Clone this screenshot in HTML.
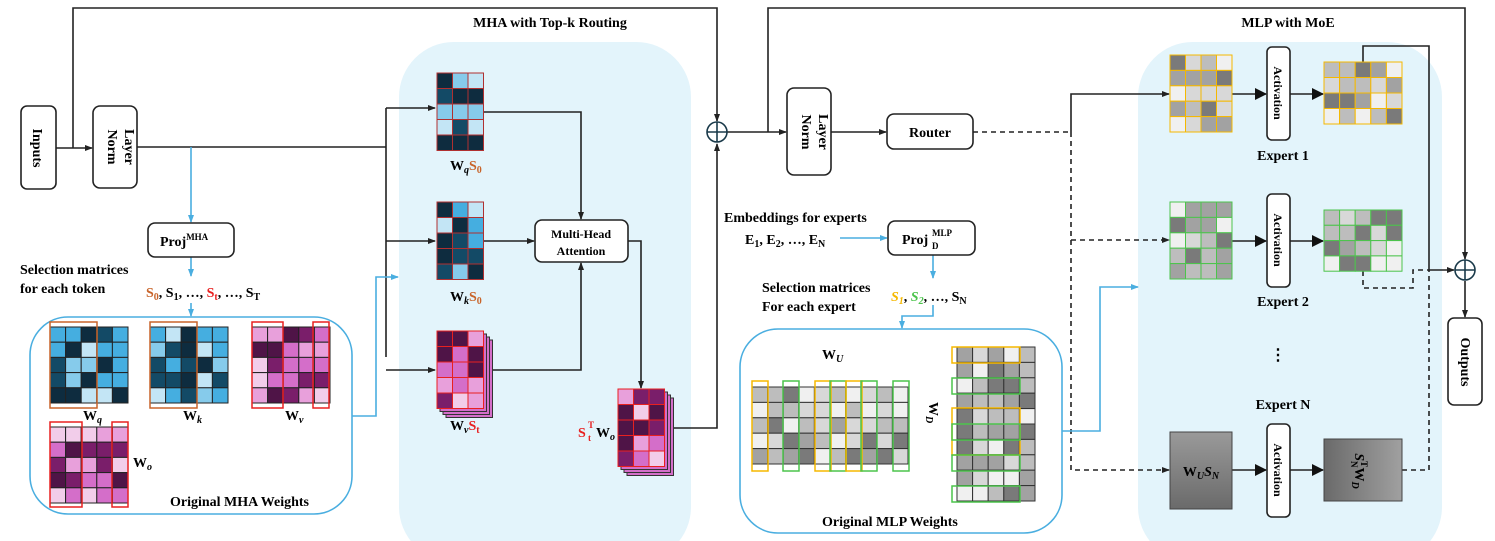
<!DOCTYPE html>
<html><head><meta charset="utf-8"><style>
html,body{margin:0;padding:0;background:#fff;}
svg{display:block;font-family:"Liberation Serif",serif;font-weight:bold;}
</style></head><body>
<svg id="s" width="1495" height="541" viewBox="0 0 1495 541" xmlns="http://www.w3.org/2000/svg">
<defs>
<marker id="a" markerWidth="8" markerHeight="8" refX="7" refY="4" orient="auto" markerUnits="userSpaceOnUse"><path d="M0,1 L8,4 L0,7 z" fill="#222"/></marker>
<marker id="b" markerWidth="8" markerHeight="8" refX="7" refY="4" orient="auto" markerUnits="userSpaceOnUse"><path d="M0,1 L8,4 L0,7 z" fill="#4aaee0"/></marker>
<marker id="c" markerWidth="12" markerHeight="12" refX="11" refY="6" orient="auto" markerUnits="userSpaceOnUse"><path d="M0,0 L12,6 L0,12 z" fill="#111"/></marker>
<linearGradient id="g1" x1="0" y1="0" x2="0" y2="1"><stop offset="0" stop-color="#9a9a9a"/><stop offset="1" stop-color="#6a6a6a"/></linearGradient>
<linearGradient id="g2" x1="0" y1="0" x2="1" y2="0"><stop offset="0" stop-color="#6a6a6a"/><stop offset="1" stop-color="#a0a0a0"/></linearGradient>
</defs>
<rect x="399" y="42" width="292" height="520" rx="55" fill="#e3f4fb"/>
<rect x="1138" y="42" width="304" height="520" rx="55" fill="#e3f4fb"/>
<text x="550" y="27" font-size="14" text-anchor="middle">MHA with Top-k Routing</text>
<text x="1288" y="27" font-size="14" text-anchor="middle">MLP with MoE</text>

<g stroke="#222" stroke-width="1.6" fill="none">
<polyline points="73,148 73,8 717,8 717,121" marker-end="url(#a)"/>
<line x1="56" y1="148" x2="92" y2="148" marker-end="url(#a)"/>
<line x1="137" y1="147" x2="386" y2="147"/>
<polyline points="386,357 386,108"/>
<line x1="386" y1="108" x2="435" y2="108" marker-end="url(#a)"/>
<line x1="386" y1="241" x2="435" y2="241" marker-end="url(#a)"/>
<line x1="386" y1="370" x2="435" y2="370" marker-end="url(#a)"/>
<polyline points="483,112 581,112 581,219" marker-end="url(#a)"/>
<line x1="483" y1="241" x2="534" y2="241" marker-end="url(#a)"/>
<polyline points="483,370 581,370 581,263" marker-end="url(#a)"/>
<polyline points="628,241 641,241 641,388" marker-end="url(#a)"/>
<polyline points="665,428 717,428 717,144" marker-end="url(#a)"/>
<line x1="727" y1="132" x2="786" y2="132" marker-end="url(#a)"/>
<polyline points="768,132 768,8 1465,8 1465,259" marker-end="url(#a)"/>
<line x1="831" y1="132" x2="886" y2="132" marker-end="url(#a)"/>
<polyline points="1071,132 1071,94 1169,94" marker-end="url(#a)"/>
<line x1="1232" y1="94" x2="1266" y2="94" marker-end="url(#c)"/>
<line x1="1290" y1="94" x2="1323" y2="94" marker-end="url(#c)"/>
<line x1="1232" y1="241" x2="1266" y2="241" marker-end="url(#c)"/>
<line x1="1290" y1="241" x2="1323" y2="241" marker-end="url(#c)"/>
<line x1="1232" y1="470" x2="1266" y2="470" marker-end="url(#c)"/>
<line x1="1290" y1="470" x2="1323" y2="470" marker-end="url(#c)"/>
<polyline points="1363,62 1363,46 1429,46 1429,270 1454,270" marker-end="url(#a)"/>
<line x1="1465" y1="281" x2="1465" y2="317" marker-end="url(#a)"/>
</g>
<g stroke="#222" stroke-width="1.6" fill="none" stroke-dasharray="5,4">
<line x1="973" y1="132" x2="1071" y2="132"/>
<polyline points="1071,132 1071,470 1169,470" marker-end="url(#a)"/>
<line x1="1071" y1="240" x2="1169" y2="240" marker-end="url(#a)"/>
<polyline points="1363,271 1363,288 1413,288 1413,270 1429,270"/>
<polyline points="1402,470 1429,470 1429,270"/>
</g>
<g stroke="#4aaee0" stroke-width="1.6" fill="none">
<line x1="191" y1="147" x2="191" y2="222" marker-end="url(#b)"/>
<line x1="191" y1="257" x2="191" y2="276" marker-end="url(#b)"/>
<line x1="191" y1="303" x2="191" y2="316" marker-end="url(#b)"/>
<polyline points="352,416 376,416 376,277 398,277" marker-end="url(#b)"/>
<line x1="840" y1="238" x2="887" y2="238" marker-end="url(#b)"/>
<line x1="933" y1="255" x2="933" y2="278" marker-end="url(#b)"/>
<polyline points="933,305 933,316 902,316 902,328" marker-end="url(#b)"/>
<polyline points="1062,431 1100,431 1100,287 1138,287" marker-end="url(#b)"/>
<rect x="30" y="317" width="322" height="197" rx="38"/>
<rect x="740" y="329" width="322" height="204" rx="38"/>
</g>
<g stroke="#1a3a4a" stroke-width="1.6" fill="#fff">
<circle cx="717" cy="132" r="10"/><line x1="707" y1="132" x2="727" y2="132"/><line x1="717" y1="122" x2="717" y2="142"/>
<circle cx="1465" cy="270" r="10"/><line x1="1455" y1="270" x2="1475" y2="270"/><line x1="1465" y1="260" x2="1465" y2="280"/>
</g>
<g stroke="#222" stroke-width="1.6" fill="#fff">
<rect x="21" y="106" width="35" height="83" rx="6"/>
<rect x="93" y="106" width="44" height="82" rx="7"/>
<rect x="148" y="223" width="86" height="34" rx="7"/>
<rect x="535" y="220" width="93" height="42" rx="7"/>
<rect x="787" y="88" width="44" height="87" rx="7"/>
<rect x="887" y="114" width="86" height="35" rx="7"/>
<rect x="888" y="221" width="87" height="34" rx="7"/>
<rect x="1267" y="47" width="23" height="93" rx="5"/>
<rect x="1267" y="194" width="23" height="93" rx="5"/>
<rect x="1267" y="424" width="23" height="93" rx="5"/>
<rect x="1448" y="318" width="34" height="87" rx="6"/>
</g>
<g id="m"></g>
<rect x="1170" y="432" width="62" height="77" fill="url(#g1)" stroke="#444"/>
<rect x="1324" y="439" width="78" height="62" fill="url(#g2)" stroke="#444"/>
<g font-size="14">
<text transform="translate(33,148) rotate(90)" text-anchor="middle">Inputs</text>
<text transform="translate(117,147) rotate(90)" text-anchor="middle"><tspan x="0" dy="-8">Layer</tspan><tspan x="0" dy="17">Norm</tspan></text>
<text transform="translate(811,132) rotate(90)" text-anchor="middle"><tspan x="0" dy="-8">Layer</tspan><tspan x="0" dy="17">Norm</tspan></text>
<text x="930" y="137" text-anchor="middle">Router</text>
<text transform="translate(1461,362) rotate(90)" text-anchor="middle">Outputs</text>
<text x="581" y="238" text-anchor="middle" font-size="12">Multi-Head</text>
<text x="581" y="255" text-anchor="middle" font-size="12">Attention</text>
<text x="160" y="246">Proj<tspan font-size="9" dy="-6">MHA</tspan></text>
<text x="902" y="244">Proj</text>
<text x="932" y="236" font-size="9">MLP</text>
<text x="932" y="249" font-size="9">D</text>
<text x="20" y="274">Selection matrices</text>
<text x="20" y="293">for each token</text>
<text x="146" y="297"><tspan fill="#c8642a">S<tspan font-size="10" dy="3">0</tspan></tspan><tspan dy="-3">, S</tspan><tspan font-size="10" dy="3">1</tspan><tspan dy="-3">, …, </tspan><tspan fill="#e82020">S<tspan font-size="10" dy="3">t</tspan></tspan><tspan dy="-3">, …, S</tspan><tspan font-size="10" dy="3">T</tspan></text>
<text x="724" y="222">Embeddings for experts</text>
<text x="745" y="244">E<tspan font-size="10" dy="3">1</tspan><tspan dy="-3">, E</tspan><tspan font-size="10" dy="3">2</tspan><tspan dy="-3">, …, E</tspan><tspan font-size="10" dy="3">N</tspan></text>
<text x="762" y="292">Selection matrices</text>
<text x="762" y="311">For each expert</text>
<text x="891" y="301"><tspan fill="#f5b800" font-style="italic">S<tspan font-size="10" dy="3">1</tspan></tspan><tspan dy="-3">, </tspan><tspan fill="#4cc44c" font-style="italic">S<tspan font-size="10" dy="3">2</tspan></tspan><tspan dy="-3">, …, S</tspan><tspan font-size="10" dy="3">N</tspan></text>
<text x="170" y="506">Original MHA Weights</text>
<text x="822" y="526">Original MLP Weights</text>
<text x="1283" y="160" text-anchor="middle">Expert 1</text>
<text x="1283" y="306" text-anchor="middle">Expert 2</text>
<text x="1283" y="409" text-anchor="middle">Expert N</text>
<text x="1278" y="360" text-anchor="middle" font-size="16">⋮</text>
<text x="450" y="170">W<tspan font-style="italic" font-size="10" dy="3">q</tspan><tspan fill="#c8642a" dy="-3">S<tspan font-size="10" dy="3">0</tspan></tspan></text>
<text x="450" y="301">W<tspan font-style="italic" font-size="10" dy="3">k</tspan><tspan fill="#c8642a" dy="-3">S<tspan font-size="10" dy="3">0</tspan></tspan></text>
<text x="450" y="430">W<tspan font-style="italic" font-size="10" dy="3">v</tspan><tspan fill="#e82020" dy="-3">S<tspan font-size="10" dy="3">t</tspan></tspan></text>
<text x="578" y="437"><tspan fill="#e82020">S</tspan></text>
<text x="588" y="428" font-size="9" fill="#e82020">T</text>
<text x="588" y="441" font-size="9" fill="#e82020">t</text>
<text x="596" y="437">W<tspan font-style="italic" font-size="10" dy="3">o</tspan></text>
<text x="83" y="420">W<tspan font-style="italic" font-size="10" dy="3">q</tspan></text>
<text x="183" y="420">W<tspan font-style="italic" font-size="10" dy="3">k</tspan></text>
<text x="285" y="420">W<tspan font-style="italic" font-size="10" dy="3">v</tspan></text>
<text x="133" y="467">W<tspan font-style="italic" font-size="10" dy="3">o</tspan></text>
<text x="822" y="359">W<tspan font-style="italic" font-size="10" dy="3">U</tspan></text>
<text transform="translate(929,402) rotate(90)">W<tspan font-style="italic" font-size="10" dy="3">D</tspan></text>
<text x="1201" y="476" text-anchor="middle">W<tspan font-style="italic" font-size="10" dy="3">U</tspan><tspan font-style="italic" dy="-3">S</tspan><tspan font-style="italic" font-size="10" dy="3">N</tspan></text>
<text transform="translate(1355,471) rotate(90)" text-anchor="middle"><tspan font-style="italic">S</tspan><tspan font-size="9" dy="-6">T</tspan><tspan font-size="9" dx="-6" dy="10">N</tspan><tspan dy="-4">W</tspan><tspan font-style="italic" font-size="10" dy="3">D</tspan></text>
</g>
<g font-size="12" font-weight="bold">
<text transform="translate(1274,93) rotate(90)" text-anchor="middle">Activation</text>
<text transform="translate(1274,240) rotate(90)" text-anchor="middle">Activation</text>
<text transform="translate(1274,470) rotate(90)" text-anchor="middle">Activation</text>
</g>
</svg>
<script>
var NS="http://www.w3.org/2000/svg",G=document.getElementById("m");
function R(x,y,w,h,f,s,sw){var r=document.createElementNS(NS,"rect");r.setAttribute("x",x);r.setAttribute("y",y);r.setAttribute("width",w);r.setAttribute("height",h);r.setAttribute("fill",f||"none");if(s){r.setAttribute("stroke",s);r.setAttribute("stroke-width",sw||1);}G.appendChild(r);}
var seed=7;function rnd(){seed=(seed*9301+49297)%233280;return seed/233280;}
var BL=["#0e2c3f","#134a66","#45aee0","#86cbeb","#c3e5f5"],PK=["#4f1447","#7a1e6a","#d46ec9","#e8a0db","#f2cdea"],GR=["#7a7a7a","#a2a2a2","#bdbdbd","#d8d8d8","#f0f0f0"];
function mat(x,y,c,r,cw,ch,p,s){for(var i=0;i<r;i++)for(var j=0;j<c;j++)R(x+j*cw,y+i*ch,cw,ch,p[Math.floor(rnd()*5)],s,1);}
function stack(x,y,c,r,cw,ch,p,s,n){for(var k=n;k>0;k--){R(x+k*3,y+k*3,c*cw,r*ch,"#d46ec9","#333",1);}mat(x,y,c,r,cw,ch,p,s);}
mat(50,327,5,5,15.6,15.2,BL,"#222");R(50,322,47,86,"none","#c8642a",1.5);
mat(150,327,5,5,15.6,15.2,BL,"#222");R(150,322,47,86,"none","#c8642a",1.5);
mat(252,327,5,5,15.6,15.2,PK,"#222");R(252,322,31,86,"none","#e82020",1.5);R(313,322,16,86,"none","#e82020",1.5);
mat(50,427,5,5,15.6,15.2,PK,"#222");R(50,422,32,85,"none","#e82020",1.5);R(112,422,16,85,"none","#e82020",1.5);
mat(437,73,3,5,15.5,15.5,BL,"#b03030");
mat(437,202,3,5,15.5,15.5,BL,"#b03030");
stack(437,331,3,5,15.5,15.5,PK,"#e82020",3);
stack(618,389,3,5,15.5,15.5,PK,"#e82020",3);
mat(752,387,10,5,15.6,15.4,GR,"#333");
R(752,381,16,90,"none","#f5b800",1.5);R(783,381,16,90,"none","#4cc44c",1.5);R(815,381,16,90,"none","#f5b800",1.5);R(830,381,16,90,"none","#4cc44c",1.5);R(846,381,16,90,"none","#f5b800",1.5);R(861,381,16,90,"none","#4cc44c",1.5);R(893,381,16,90,"none","#4cc44c",1.5);
mat(957,347,5,10,15.6,15.4,GR,"#333");
R(952,347,68,16,"none","#f5b800",1.5);R(952,378,68,16,"none","#4cc44c",1.5);R(952,408,68,47,"none","#f5b800",1.5);R(952,424,68,16,"none","#4cc44c",1.5);R(952,455,68,16,"none","#4cc44c",1.5);R(952,486,68,16,"none","#4cc44c",1.5);
mat(1170,55,4,5,15.5,15.4,GR,"#f5b800");
mat(1324,62,5,4,15.6,15.5,GR,"#f5b800");
mat(1170,202,4,5,15.5,15.4,GR,"#4cc44c");
mat(1324,210,5,4,15.6,15.3,GR,"#4cc44c");
</script>
</body></html>
